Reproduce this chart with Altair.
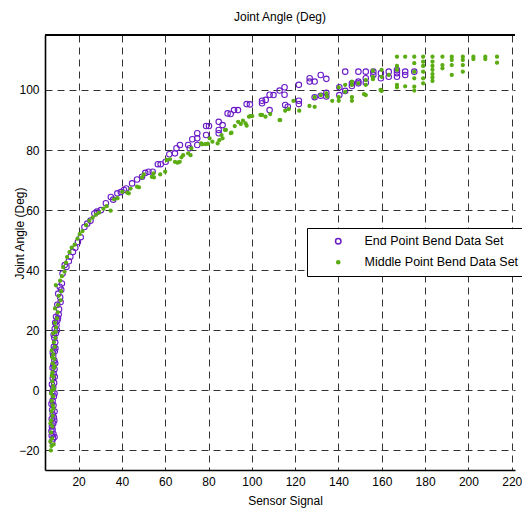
import altair as alt
import pandas as pd

series_names = ["End Point Bend Data Set", "Middle Point Bend Data Set"]
series_colors = ["#6a1bc6", "#5aac12"]
x_ticks = [20, 40, 60, 80, 100, 120, 140, 160, 180, 200, 220]
y_ticks = [-20, 0, 20, 40, 60, 80, 100]

# End Point Bend Data Set (sensor signal, joint angle)
end_pts = [
    (7.8, -17), (8.2, -16), (7.6, -15), (8.4, -14.5), (8.0, -13), (7.7, -12), (8.3, -11), (8.6, -9),
    (8.1, -8), (7.8, -6.5), (8.4, -5), (8.0, -3.5), (8.6, -2), (7.9, -0.5), (8.3, 1), (8.7, 2.5),
    (8.1, 4), (8.5, 5.5), (8.9, 7), (8.4, 8.5), (8.8, 10), (8.3, 11.5), (9.0, 13), (8.6, 14.5),
    (9.2, 16), (8.8, 17.5), (9.5, 19), (9.0, 20.5), (9.8, 21.7), (10.2, 23.3), (9.6, 24.5), (10.8, 25.3),
    (8.9, -15.5), (7.5, -13.5), (8.8, -10), (7.6, -9.5), (8.9, -7), (7.5, -4.5), (8.9, -1), (7.7, 2),
    (9.0, 4.5), (8.0, 7.5), (9.2, 9), (8.1, 12.5), (9.3, 14), (8.5, 18.5), (10.0, 20), (9.2, 22.5),
    (10.5, 24), (11.0, 27), (10.2, 28.5), (11.5, 31),
    (11.7, 29.4), (10.6, 32.2), (11.3, 34.5), (12.3, 35.6), (12.0, 33.5), (12.6, 38.9), (13.6, 41.7),
    (14.4, 41.1), (15.5, 43), (16.2, 44.5), (17.4, 46.1), (18.5, 47.5), (19.7, 49.4), (21.0, 51),
    (22.7, 54.4), (24, 55.5), (25.5, 56.5), (27.3, 58.9), (28.5, 59.5), (30.3, 60), (32.6, 62.3),
    (34.9, 64.4), (36, 63.5), (37.9, 65.6), (39.5, 66), (41, 66.7), (42, 67.2), (44.7, 68.9), (47, 70.2),
    (49.3, 71.1), (50.8, 72.4), (52.3, 72.8), (54.2, 72.8), (56.6, 75.3), (57.9, 75.3), (60.2, 76.1),
    (61.9, 78.6), (64.5, 78.9), (65.2, 80.6), (66.8, 81.7), (70.6, 81.7), (71.3, 80.6), (72.5, 83.6),
    (74.8, 85.6), (74.8, 83.9), (74.8, 81.7), (78.9, 88), (78.9, 85), (80.2, 88), (84.7, 89.4),
    (84.7, 86.7), (84.7, 85.6), (86.5, 88.3), (88.8, 92.2), (90.2, 92), (91.8, 93.3), (93.6, 93.3),
    (97.6, 95.3), (99.1, 95.2), (104.7, 96.4), (104.7, 95.6), (106.4, 96.7), (108.2, 98.4), (108.2, 93.3),
    (110, 98.3), (112.8, 99.8), (115.1, 100.9), (115.1, 98.4), (115.4, 95), (116.6, 94.4), (121.7, 101.7),
    (121.7, 96.4), (121.7, 95.3), (126.7, 103.9), (126.7, 102.8), (129, 102.8), (129, 97.6), (131.8, 105),
    (131.8, 98.1), (134.4, 103.7), (134.4, 99.1), (134.4, 97.8), (140.4, 100.9), (140.4, 98.3),
    (143.1, 106.1), (143.1, 99.7), (146.2, 102.2), (146.2, 101.3), (149.2, 106.1), (149.2, 102.8),
    (149.2, 102.2), (152.6, 106.1), (152.6, 103.9), (152.6, 102.4), (156.1, 106.1), (156.1, 105),
    (159.6, 105.6), (159.6, 103.9), (163.2, 106.1), (163.2, 104.4), (167, 106.6), (167, 105.6),
    (167, 104.4), (170.8, 106.1), (170.8, 105), (175, 106.1),
]

# Middle Point Bend Data Set (sensor signal, joint angle)
mid_pts = [
    (7.2, -20), (7.5, -18.5), (7.0, -17), (7.8, -16), (7.3, -14), (7.9, -12), (7.4, -10), (8.0, -8.5),
    (7.5, -7), (8.1, -5), (7.6, -3.5), (8.2, -2), (7.7, 0), (8.3, 1.5), (7.9, 3), (8.4, 4.5), (8.0, 6),
    (8.6, 7.5), (8.1, 9), (8.8, 10.5), (8.4, 12), (7.6, 13.3), (9.0, 14.5), (8.6, 16), (9.3, 17.5),
    (8.3, 19), (9.6, 21), (9.1, 22.5), (10, 24), (9.1, 27.3), (10.5, 28.5), (11.7, 30), (10.8, 31.5),
    (8.5, -18), (7.0, -11), (8.4, -6), (7.3, -1), (8.7, 0.5), (7.6, 5), (9.0, 8), (7.9, 11), (9.4, 19.5),
    (10.4, 26), (12.0, 33), (13.5, 39.5),
    (9.5, 35), (11.5, 36.5), (12.3, 38), (12.9, 41), (14.2, 42.5), (14.7, 44.4), (15.8, 46), (16.8, 47.5),
    (18.2, 48.5), (19.5, 50.5), (20.5, 52), (21.8, 53), (23.5, 55), (25, 56.5), (26.5, 57.5), (28, 58.5),
    (29.5, 59.2), (31.5, 60.5), (33, 61.3), (34.8, 59.8), (36.4, 63.6), (38, 64), (40.2, 66.1),
    (42.5, 65.8), (43.2, 65.6), (44, 67.2), (47, 67.8), (47.9, 67.6), (49.3, 70.9), (50.1, 71.9),
    (53.8, 71.1), (54.6, 72.2), (54.8, 70.9), (57.7, 71.9), (60, 72.8), (60.7, 76.7), (62.2, 76.9),
    (64.5, 76.1), (65.7, 75.8), (66.7, 76.1), (67.5, 77.6), (68.3, 78.3), (70.6, 78.9), (71.7, 78.3),
    (72.1, 80.6), (76.6, 82.2), (77.1, 81.9), (78.5, 82), (79.7, 82.1), (80.5, 83.9), (81.8, 82.8),
    (84.2, 82.2), (85, 83.3), (86, 85), (86.5, 83.9), (87.6, 86.7), (88, 86.7), (90.3, 85.6), (90.6, 85.8),
    (92.1, 88), (93.7, 89.4), (94.9, 88.7), (95.9, 89.8), (97.1, 88.9), (97.6, 88.1), (98.7, 91.1),
    (99.4, 91.3), (100.2, 91.3), (104, 91.7), (104.7, 91.7), (106.3, 91.1), (108.5, 92), (112.8, 90),
    (113.1, 90), (115.4, 93.1), (117, 93.6), (119.2, 96.4), (121.9, 93.1), (126.6, 94.7), (129, 94.4),
    (129, 97.6), (131.8, 98.3), (134.4, 98.9), (134.7, 97.8), (137.1, 96.4), (140.1, 97.6), (140.1, 96.4),
    (140.1, 100.9), (143.1, 101.7), (143.1, 99.4), (146.2, 101.7), (146.2, 97.6), (146.2, 96.4),
    (146.2, 102.8), (149.2, 102.2), (151.8, 98.6), (152.6, 101.7), (152.6, 98.3), (152.6, 103.3),
    (155.9, 106.4), (155.9, 104.4), (155.9, 103.6), (159.9, 106.7), (159.9, 104.4), (159.9, 99.7),
    (159.4, 100), (163.2, 105), (167, 111.1), (167, 108), (167, 106.7), (167, 101.7), (167, 100.9),
    (170.8, 111.1), (170.8, 101.2), (175, 111.1), (175, 108.9), (175, 106.1), (175, 103.9), (175, 101.1),
    (175, 99.8), (179.1, 111.1), (179.1, 109.4), (179.1, 108), (179.1, 106.1), (179.1, 103.9),
    (179.1, 102.2), (183.4, 111.1), (183.4, 109.4), (183.4, 108), (183.4, 106.7), (183.4, 105.3),
    (183.4, 104.2), (183.4, 103), (188, 111.1), (188, 108.3), (188, 107.2), (192.3, 111.1), (192.3, 110),
    (192.3, 108.3), (192.3, 105), (197.4, 111.1), (197.4, 110), (197.4, 108.3), (197.4, 106.1),
    (202.3, 111.1), (202.3, 110.3), (207.8, 111.1), (207.8, 110.3), (213.2, 111.1), (213.2, 109.1),
]

rows = []
for sx, sy in end_pts:
    rows.append({"signal": sx, "angle": sy, "series": series_names[0]})
for sx, sy in mid_pts:
    rows.append({"signal": sx, "angle": sy, "series": series_names[1]})
df = pd.DataFrame(rows)

FONT = "Liberation Sans"
PLOT_W, PLOT_H = 470, 435
x_scale = alt.Scale(domain=[4.5, 221.5], nice=False, zero=False)
y_scale = alt.Scale(domain=[-26.5, 118.3], nice=False, zero=False)

legend = alt.Legend(
    orient="none", legendX=262, legendY=193, title=None,
    strokeColor="black", fillColor="white", padding=7, rowPadding=8,
    labelFont=FONT, labelFontSize=12.5, labelColor="black",
    symbolOffset=18, labelOffset=20, cornerRadius=0,
)

points = alt.Chart(df).mark_point(shape="circle", strokeWidth=1.1, opacity=1).encode(
    x=alt.X("signal:Q", scale=x_scale, axis=alt.Axis(
        values=x_ticks, title="Sensor Signal", grid=True, ticks=False,
        titleX=240, titleY=25, titleBaseline="top", titleAnchor="middle")),
    y=alt.Y("angle:Q", scale=y_scale, axis=alt.Axis(
        values=y_ticks, title="Joint Angle (Deg)", grid=True, ticks=False,
        titleX=-26, titleY=198, titleBaseline="middle", titleAngle=-90)),
    stroke=alt.Stroke("series:N", scale=alt.Scale(domain=series_names, range=series_colors), legend=legend),
    fill=alt.Fill("series:N", scale=alt.Scale(domain=series_names, range=["transparent", series_colors[1]]), legend=legend),
    size=alt.Size("series:N", scale=alt.Scale(domain=series_names, range=[30, 10]), legend=legend),
)

# top border of the axes box
top_frame = alt.Chart(df).mark_rule(color="black", strokeWidth=1.6).encode(
    x=alt.value(0), x2=alt.value(PLOT_W), y=alt.value(0),
)

chart = alt.layer(points, top_frame).properties(
    width=PLOT_W, height=PLOT_H,
    autosize=alt.AutoSizeParams(type="none"),
    padding={"left": 37, "top": 27, "right": 7, "bottom": 40},
    title=alt.Title("Joint Angle (Deg)", font=FONT, fontSize=12, fontWeight="normal",
                    color="black", anchor="middle", offset=10),
).configure_view(stroke=None).configure_axis(
    labelFont=FONT, labelFontSize=12, labelColor="black",
    titleFont=FONT, titleFontSize=12, titleFontWeight="normal", titleColor="black",
    domainColor="black", domainWidth=1.6,
    gridColor="#333333", gridDash=[7, 5], gridWidth=1, gridOpacity=1,
    labelPadding=6,
)

chart.save("out.html", embed_options={"renderer": "svg", "actions": False})
